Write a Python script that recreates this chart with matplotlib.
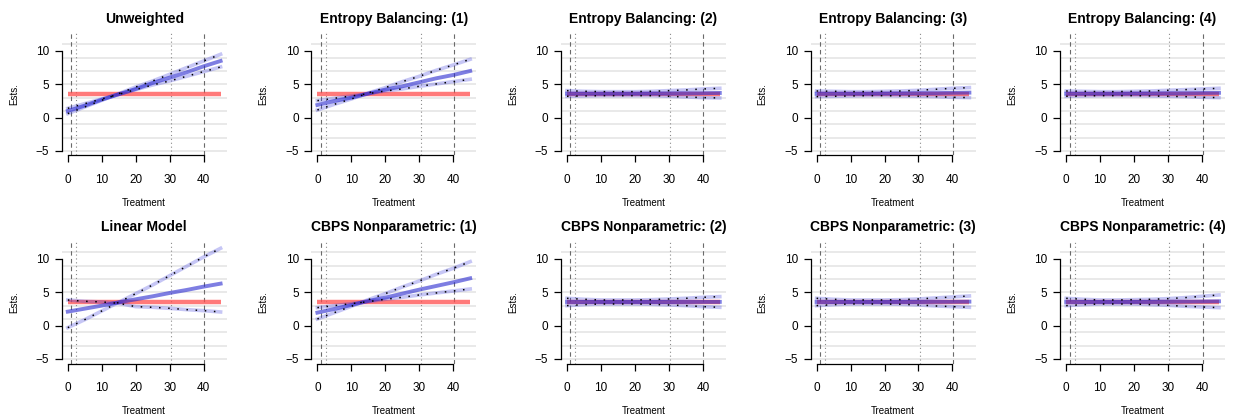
import matplotlib
matplotlib.use("Agg")
import matplotlib.pyplot as plt

# treatment grid and true effect
x_grid = [0, 5, 10, 15, 20, 25, 30, 35, 40, 45]
true_effect = 3.5
dashed_q = [1.0, 40.2]
dotted_q = [2.5, 30.4]

titles = ["Unweighted", "Entropy Balancing: (1)", "Entropy Balancing: (2)",
          "Entropy Balancing: (3)", "Entropy Balancing: (4)",
          "Linear Model", "CBPS Nonparametric: (1)", "CBPS Nonparametric: (2)",
          "CBPS Nonparametric: (3)", "CBPS Nonparametric: (4)"]

# estimates and the two bound curves, per panel
est_unw = [1.0, 1.8, 2.7, 3.5, 4.3, 5.2, 6.0, 6.8, 7.7, 8.5]
cia_unw = [0.6, 1.6, 2.6, 3.6, 4.6, 5.5, 6.5, 7.5, 8.5, 9.5]
cib_unw = [1.4, 2.1, 2.8, 3.5, 4.2, 4.9, 5.5, 6.2, 6.9, 7.6]

est_eb1 = [1.9, 2.5, 3.0, 3.6, 4.2, 4.7, 5.3, 5.9, 6.4, 7.0]
cia_eb1 = [1.15, 2.0, 2.8, 3.7, 4.5, 5.4, 6.2, 7.1, 7.9, 8.75]
cib_eb1 = [2.55, 2.9, 3.25, 3.6, 4.0, 4.3, 4.7, 5.05, 5.4, 5.75]

est_eb2 = [3.6, 3.6, 3.6, 3.6, 3.6, 3.62, 3.63, 3.65, 3.67, 3.7]
cia_eb2 = [4.05, 3.95, 3.9, 3.9, 3.9, 3.95, 4.05, 4.15, 4.3, 4.4]
cib_eb2 = [3.2, 3.25, 3.3, 3.3, 3.3, 3.3, 3.2, 3.1, 3.0, 2.95]

est_eb3 = [3.6, 3.6, 3.6, 3.6, 3.62, 3.64, 3.66, 3.68, 3.72, 3.75]
cia_eb3 = [4.0, 3.95, 3.9, 3.9, 3.95, 4.0, 4.1, 4.25, 4.4, 4.5]
cib_eb3 = [3.15, 3.2, 3.25, 3.3, 3.3, 3.25, 3.2, 3.15, 3.05, 3.0]

est_eb4 = [3.6, 3.6, 3.6, 3.6, 3.62, 3.63, 3.65, 3.67, 3.7, 3.72]
cia_eb4 = [4.0, 3.95, 3.9, 3.9, 3.95, 4.0, 4.1, 4.2, 4.3, 4.4]
cib_eb4 = [3.2, 3.25, 3.3, 3.3, 3.3, 3.25, 3.2, 3.15, 3.05, 3.0]

est_lm = [2.1, 2.55, 3.0, 3.5, 3.95, 4.4, 4.9, 5.35, 5.85, 6.3]
cia_lm = [-0.3, 0.9, 2.2, 3.5, 4.8, 6.1, 7.5, 8.9, 10.3, 11.6]
cib_lm = [3.85, 3.65, 3.55, 3.35, 2.85, 2.75, 2.6, 2.4, 2.25, 2.05]

est_cb1 = [1.95, 2.5, 3.1, 3.7, 4.2, 4.8, 5.4, 5.95, 6.5, 7.1]
cia_cb1 = [1.0, 1.95, 2.9, 3.9, 4.8, 5.8, 6.7, 7.7, 8.6, 9.6]
cib_cb1 = [2.7, 3.0, 3.3, 3.6, 3.95, 4.25, 4.6, 4.9, 5.2, 5.5]

est_cb2 = [3.55, 3.55, 3.55, 3.55, 3.55, 3.55, 3.55, 3.55, 3.56, 3.56]
cia_cb2 = [4.1, 3.95, 3.85, 3.85, 3.85, 3.9, 4.0, 4.1, 4.25, 4.35]
cib_cb2 = [3.0, 3.15, 3.25, 3.25, 3.25, 3.2, 3.1, 3.0, 2.85, 2.75]

est_cb3 = [3.55, 3.55, 3.55, 3.55, 3.55, 3.56, 3.56, 3.57, 3.58, 3.6]
cia_cb3 = [4.1, 3.95, 3.85, 3.85, 3.85, 3.9, 4.0, 4.15, 4.3, 4.45]
cib_cb3 = [3.0, 3.15, 3.25, 3.25, 3.25, 3.2, 3.1, 2.95, 2.85, 2.75]

est_cb4 = [3.55, 3.55, 3.55, 3.55, 3.56, 3.57, 3.58, 3.6, 3.62, 3.65]
cia_cb4 = [4.1, 3.95, 3.85, 3.85, 3.9, 3.95, 4.05, 4.2, 4.4, 4.6]
cib_cb4 = [3.0, 3.15, 3.25, 3.25, 3.25, 3.15, 3.05, 2.9, 2.8, 2.7]

panels = [
    (est_unw, cia_unw, cib_unw), (est_eb1, cia_eb1, cib_eb1),
    (est_eb2, cia_eb2, cib_eb2), (est_eb3, cia_eb3, cib_eb3),
    (est_eb4, cia_eb4, cib_eb4), (est_lm, cia_lm, cib_lm),
    (est_cb1, cia_cb1, cib_cb1), (est_cb2, cia_cb2, cib_cb2),
    (est_cb3, cia_cb3, cib_cb3), (est_cb4, cia_cb4, cib_cb4),
]

plt.rcParams["font.family"] = ["Liberation Sans", "DejaVu Sans"]

fig = plt.figure(figsize=(12.35, 4.19), dpi=100)

W, H = 1235.0, 419.0
left0, dx, w = 61.7, 249.6, 165.0
tops = [33.1, 241.1]
h = 122.4

for k, (title, (est, cia, cib)) in enumerate(zip(titles, panels)):
    row, col = divmod(k, 5)
    ax = fig.add_axes([(left0 + col * dx) / W, 1 - (tops[row] + h) / H, w / W, h / H])
    ax.set_xlim(-1.8, 46.8)
    ax.set_ylim(-5.68, 12.68)

    # horizontal guide lines
    for gy in [-5, -3, -1, 1, 3, 5, 7, 9, 11]:
        ax.axhline(gy, color="#e3e3e3", lw=1.1, zorder=0)
    for q in dashed_q:
        ax.axvline(q, color="#6a6a6a", lw=0.8, linestyle=(0, (4, 3)), zorder=1)
    for q in dotted_q:
        ax.axvline(q, color="#8a8a8a", lw=0.8, linestyle=(0, (1, 2.5)), zorder=1)

    ax.plot([x_grid[0], x_grid[-1]], [true_effect, true_effect],
            color="#ff4d4d", alpha=0.75, lw=3.2, solid_capstyle="butt", zorder=2)
    for ci in (cia, cib):
        ax.plot(x_grid, ci, color="#3333dd", alpha=0.28, lw=2.6, zorder=3)
    ax.plot(x_grid, est, color="#2828d0", alpha=0.6, lw=2.8, zorder=4)
    for ci in (cia, cib):
        ax.plot(x_grid, ci, color="black", lw=1.1, linestyle=(0, (1, 5)), zorder=5)

    for s in ["top", "right"]:
        ax.spines[s].set_visible(False)
    ax.spines["left"].set_bounds(-5, 10)
    ax.spines["bottom"].set_bounds(0, 40)
    ax.spines["left"].set_linewidth(0.9)
    ax.spines["bottom"].set_linewidth(0.9)
    ax.set_xticks([0, 10, 20, 30, 40])
    ax.set_yticks([-5, 0, 5, 10])
    ax.set_yticklabels(["\u22125", "0", "5", "10"])
    ax.tick_params(length=5, width=0.9, labelsize=8.5, colors="black")
    ax.tick_params(axis="x", pad=8)
    ax.tick_params(axis="y", pad=4)

    ax.set_xlabel("Treatment", fontsize=7)
    ax.xaxis.set_label_coords(0.5, -0.35)
    ax.set_ylabel("Ests.", fontsize=7)
    ax.yaxis.set_label_coords(-0.26, 0.5)
    ax.text(0.5, 1.115, title, transform=ax.transAxes, ha="center", va="center",
            fontsize=10, fontweight="bold")

fig.savefig("out.png", dpi=100)
